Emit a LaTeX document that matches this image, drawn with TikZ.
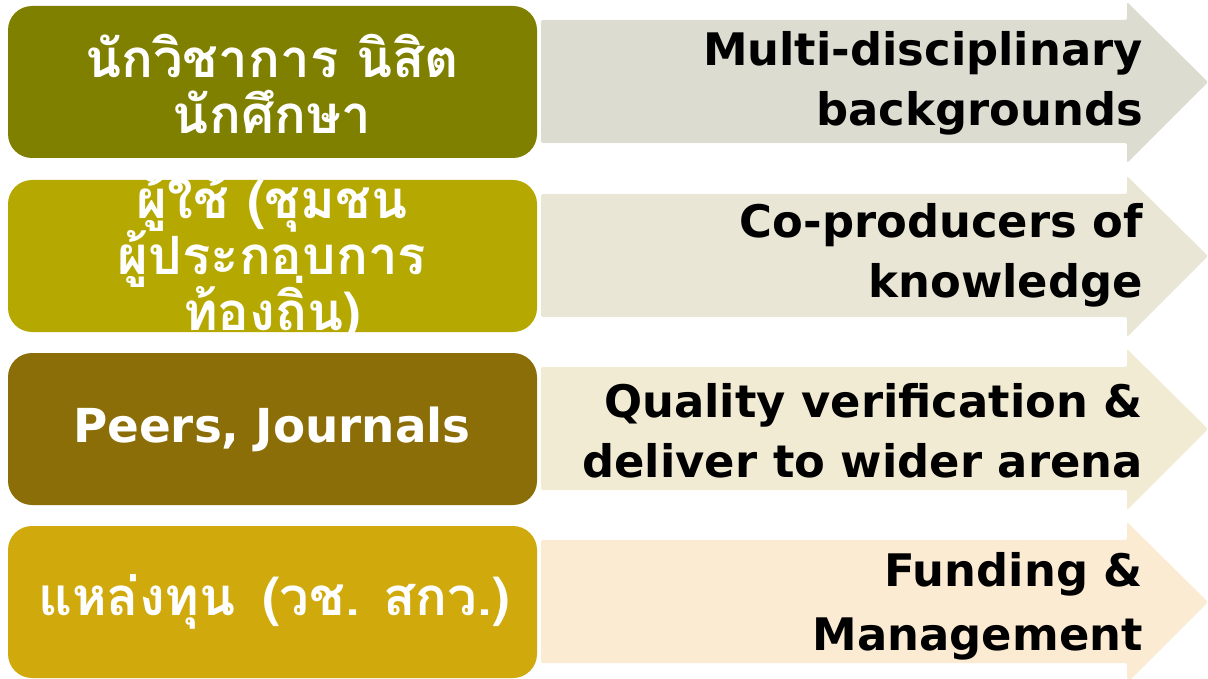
\documentclass[tikz,border=0pt]{standalone}
\usepackage{fontspec}
\newfontfamily\thai[Script=Thai]{Loma}
\newfontfamily\eng{DejaVu Sans}
\newcommand\tightlines{\lineskiplimit=-200pt\relax\lineskip=0pt\relax}
\definecolor{boxA}{HTML}{808000}
\definecolor{boxB}{HTML}{B5A800}
\definecolor{boxC}{HTML}{8B6E08}
\definecolor{boxD}{HTML}{D0A90C}
\definecolor{arrA}{HTML}{DCDCD0}
\definecolor{arrB}{HTML}{E9E6D6}
\definecolor{arrC}{HTML}{F2EBD3}
\definecolor{arrD}{HTML}{FAEBD2}
\tikzset{
  leftbox/.style={rounded corners=24bp, draw=none},
  ltext/.style={text=white, font=\thai\bfseries\fontsize{53}{56}\selectfont\tightlines, align=center, inner sep=0},
  rtext/.style={text=black, font=\eng\bfseries\fontsize{45}{60}\selectfont, align=right, inner sep=0, anchor=east},
}
\begin{document}
\begin{tikzpicture}[x=1bp,y=-1bp]
\useasboundingbox (0,0) rectangle (1208,679);
\foreach \dy/\ac/\bc in {0/arrA/boxA, 174/arrB/boxB, 347/arrC/boxC, 520/arrD/boxD}{
  \fill[\ac, rounded corners=2bp] (541,20+\dy) -- (1127,20+\dy) -- (1127,2+\dy) -- (1208,82+\dy) -- (1127,163+\dy) -- (1127,143+\dy) -- (541,143+\dy) -- cycle;
  \fill[\bc, leftbox] (8,6+\dy) rectangle (537,158+\dy);
}
\node[ltext] (l1) at (272,84) {นักวิชาการ นิสิต\\นักศึกษา};
\node[ltext] (l2) at (272,258) {ผู้ใช้ (ชุมชน\\ผู้ประกอบการ\\ท้องถิ่น)};
\node[ltext, font=\eng\bfseries\fontsize{47}{55}\selectfont] (l3) at (272,429) {Peers, Journals};
\node[ltext] (l4) at (274,602) {แหล่งทุน\hspace{0.5em}(วช. สกว.)};
\node[rtext] (r1) at (1143,83) {Multi-disciplinary\\backgrounds};
\node[rtext] (r2) at (1143,255) {Co-producers of\\knowledge};
\node[rtext] (r3) at (1143,431) {Quality verification \&\\deliver to wider arena};
\node[rtext, font=\eng\bfseries\fontsize{45}{64}\selectfont] (r4) at (1143,606) {Funding \&\\Management};
\end{tikzpicture}
\end{document}
